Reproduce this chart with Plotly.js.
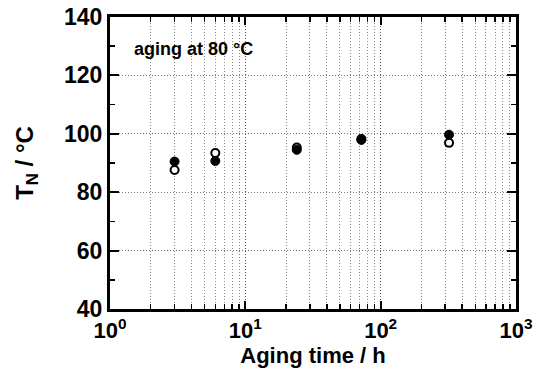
<!DOCTYPE html>
<html>
<head>
<meta charset="utf-8">
<script src="https://cdn.plot.ly/plotly-3.0.1.min.js"></script>
<style>html,body{margin:0;padding:0;background:#fff;}#chart{width:537px;height:369px;}</style>
</head>
<body>
<div id="chart"></div>
<script>
// Aging time (h)
const agingTime = [3, 6, 24, 72, 320];
// T_N (°C), open circles
const tnOpen = [87.6, 93.4, 95.3, 98.2, 96.9];
// T_N (°C), filled circles
const tnFilled = [90.5, 90.7, 94.5, 97.9, 99.7];
// x tick labels
const xTickVals = [1, 10, 100, 1000];
const xTickText = ['10<sup>0</sup>', '10<sup>1</sup>', '10<sup>2</sup>', '10<sup>3</sup>'];
const xMinorVals = [2,3,4,5,6,7,8,9,20,30,40,50,60,70,80,90,200,300,400,500,600,700,800,900];
const yTickVals = [40, 60, 80, 100, 120, 140];

const FONT = 'Liberation Sans, Arial, Helvetica, sans-serif';

const traces = [
  {
    x: agingTime, y: tnOpen, type: 'scatter', mode: 'markers', name: 'open',
    marker: {symbol: 'circle', size: 8, color: '#ffffff', line: {color: '#000', width: 2}},
    showlegend: false, hoverinfo: 'x+y'
  },
  {
    x: agingTime, y: tnFilled, type: 'scatter', mode: 'markers', name: 'filled',
    marker: {symbol: 'circle', size: 9, color: '#000000', line: {color: '#000', width: 1}},
    showlegend: false, hoverinfo: 'x+y'
  }
];

const layout = {
  width: 537, height: 369,
  margin: {l: 110, r: 21, t: 17, b: 60},
  paper_bgcolor: '#fff', plot_bgcolor: '#fff',
  font: {family: FONT, color: '#000'},
  showlegend: false,
  xaxis: {
    type: 'log', range: [0, 3],
    tickmode: 'array', tickvals: xTickVals, ticktext: xTickText,
    ticks: 'inside', ticklen: 8, tickwidth: 2, tickcolor: '#000',
    showline: true, linewidth: 3, linecolor: '#000', mirror: 'allticks',
    showgrid: true, gridcolor: '#555', griddash: '1px,2px', gridwidth: 1,
    zeroline: false,
    tickfont: {family: FONT, size: 22, weight: 'bold', color: '#000'},
    minor: {
      tickmode: 'array', tickvals: xMinorVals,
      ticks: 'inside', ticklen: 5, tickwidth: 1.5, tickcolor: '#000',
      showgrid: true, gridcolor: '#888', griddash: '1px,2px', gridwidth: 1
    },
    title: {text: 'Aging time / h', font: {family: FONT, size: 22, weight: 'bold', color: '#000'}, standoff: 2}
  },
  yaxis: {
    range: [40, 140],
    tickmode: 'array', tickvals: yTickVals,
    ticks: 'inside', ticklen: 9, tickwidth: 2, tickcolor: '#000',
    showline: true, linewidth: 3, linecolor: '#000', mirror: 'allticks',
    showgrid: true, gridcolor: '#777', griddash: '1px,2px', gridwidth: 1,
    zeroline: false,
    tickfont: {family: FONT, size: 23, weight: 'bold', color: '#000'},
    minor: {dtick: 10, ticks: 'inside', ticklen: 5, tickwidth: 1.5, tickcolor: '#000', showgrid: false},
    title: {text: 'T<sub>N</sub> / °C', font: {family: FONT, size: 24, weight: 'bold', color: '#000'}, standoff: 24}
  },
  annotations: [
    {
      xref: 'paper', yref: 'paper', x: 0.053, y: 0.89, xanchor: 'left', yanchor: 'middle',
      text: 'aging at 80 °C', showarrow: false,
      font: {family: FONT, size: 18, weight: 'bold', color: '#000'}
    }
  ]
};

Plotly.newPlot('chart', traces, layout, {displayModeBar: false, staticPlot: true});
</script>
</body>
</html>
